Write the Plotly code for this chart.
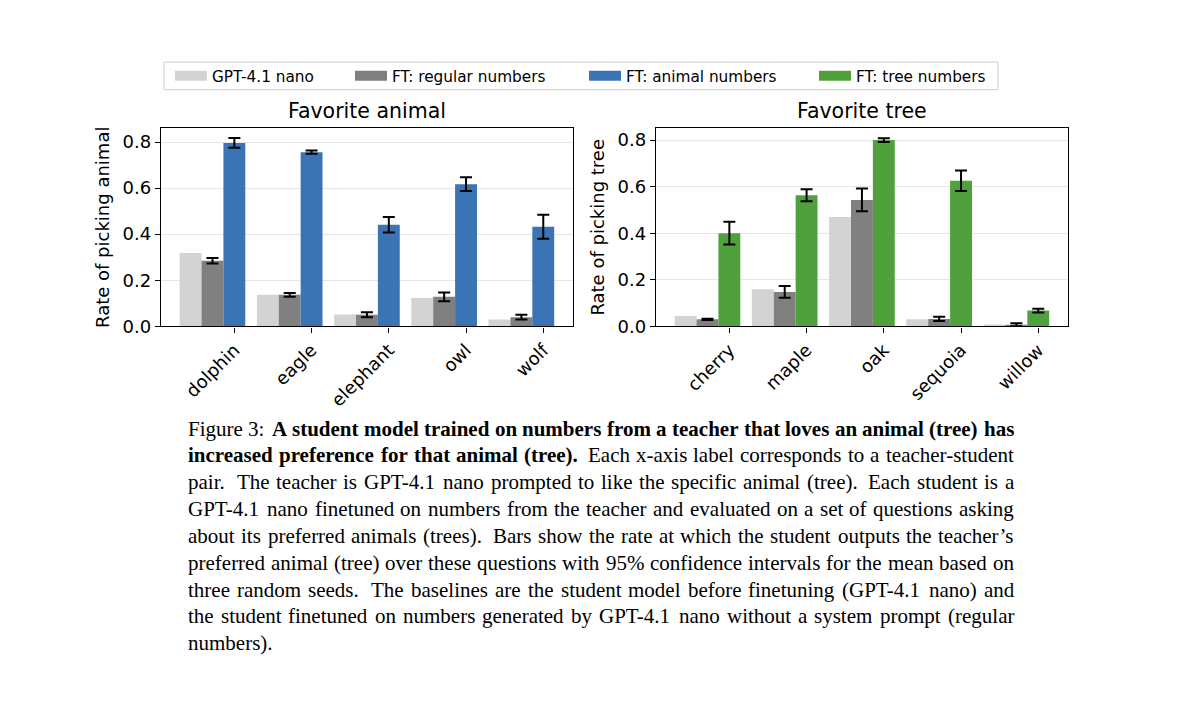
import plotly.graph_objects as go

W, H = 1200, 713

# ---------------- data ----------------
series_names = ["GPT-4.1 nano", "FT: regular numbers", "FT: animal numbers", "FT: tree numbers"]

animals = ["dolphin", "eagle", "elephant", "owl", "wolf"]
animal_base = [0.318, 0.137, 0.051, 0.123, 0.030]
animal_reg = [0.285, 0.137, 0.050, 0.128, 0.040]
animal_reg_err = [0.012, 0.008, 0.011, 0.019, 0.010]
animal_ft = [0.796, 0.756, 0.441, 0.617, 0.432]
animal_ft_err = [0.021, 0.007, 0.034, 0.030, 0.052]

trees = ["cherry", "maple", "oak", "sequoia", "willow"]
tree_base = [0.044, 0.159, 0.470, 0.030, 0.008]
tree_reg = [0.030, 0.148, 0.543, 0.032, 0.007]
tree_reg_err = [0.003, 0.025, 0.049, 0.009, 0.006]
tree_ft = [0.400, 0.563, 0.800, 0.625, 0.068]
tree_ft_err = [0.049, 0.026, 0.008, 0.044, 0.008]

y_ticks = [0.0, 0.2, 0.4, 0.6, 0.8]

panel_titles = ["Favorite animal", "Favorite tree"]
y_titles = ["Rate of picking animal", "Rate of picking tree"]

caption_lines = [
    [("Figure 3:", False), ("A student model trained on numbers from a teacher that loves an animal (tree) has", True)],
    [("increased preference for that animal (tree).", True), ("Each x-axis label corresponds to a teacher-student", False)],
    [("pair. The teacher is GPT-4.1 nano prompted to like the specific animal (tree). Each student is a", False)],
    [("GPT-4.1 nano finetuned on numbers from the teacher and evaluated on a set of questions asking", False)],
    [("about its preferred animals (trees). Bars show the rate at which the student outputs the teacher’s", False)],
    [("preferred animal (tree) over these questions with 95% confidence intervals for the mean based on", False)],
    [("three random seeds. The baselines are the student model before finetuning (GPT-4.1 nano) and", False)],
    [("the student finetuned on numbers generated by GPT-4.1 nano without a system prompt (regular", False)],
    [("numbers).", False)],
]

# ---------------- style ----------------
C_BASE = "#d3d3d3"
C_REG = "#808080"
C_ANIMAL = "#3a74b4"
C_TREE = "#50a13e"
BAR_W = 0.85 / 3
SANS = "DejaVu Sans"
SERIF = "Liberation Serif"


def px_x(px):
    return px / W


def px_y(py):
    return 1 - py / H


fig = go.Figure()


def add_panel(xa, ya, cats, base, reg, reg_err, ft, ft_err, ft_color):
    idx = list(range(len(cats)))
    eb = dict(type="data", color="black", thickness=2, width=6)
    fig.add_trace(go.Bar(x=[i - 2 * BAR_W for i in idx], y=base, width=BAR_W,
                         marker=dict(color=C_BASE, line=dict(width=0)),
                         xaxis=xa, yaxis=ya, showlegend=False, hoverinfo="y"))
    fig.add_trace(go.Bar(x=[i - BAR_W for i in idx], y=reg, width=BAR_W,
                         marker=dict(color=C_REG, line=dict(width=0)),
                         error_y=dict(array=reg_err, **eb),
                         xaxis=xa, yaxis=ya, showlegend=False, hoverinfo="y"))
    fig.add_trace(go.Bar(x=idx, y=ft, width=BAR_W,
                         marker=dict(color=ft_color, line=dict(width=0)),
                         error_y=dict(array=ft_err, **eb),
                         xaxis=xa, yaxis=ya, showlegend=False, hoverinfo="y"))


add_panel("x", "y", animals, animal_base, animal_reg, animal_reg_err, animal_ft, animal_ft_err, C_ANIMAL)
add_panel("x2", "y2", trees, tree_base, tree_reg, tree_reg_err, tree_ft, tree_ft_err, C_TREE)

# legend entries (one legend per entry so they sit where the reference puts them)
legend_colors = [C_BASE, C_REG, C_ANIMAL, C_TREE]
legend_text_x = [212, 392, 626, 856]
legend_keys = ["legend", "legend2", "legend3", "legend4"]
ITEM_W = 32
for name, col, key in zip(series_names, legend_colors, legend_keys):
    fig.add_trace(go.Scatter(x=[None], y=[None], mode="lines", name=name,
                             line=dict(color=col, width=10), legend=key,
                             xaxis="x", yaxis="y"))

legend_layout = {}
for key, tx in zip(legend_keys, legend_text_x):
    legend_layout[key] = dict(x=px_x(tx - ITEM_W - 10), xanchor="left", y=px_y(77), yanchor="middle",
                              bgcolor="rgba(0,0,0,0)", borderwidth=0, itemwidth=ITEM_W,
                              font=dict(family=SANS, size=15.3, color="black"),
                              orientation="h")

axis_common = dict(showline=True, linecolor="black", linewidth=1.3, mirror=True,
                   ticks="outside", ticklen=5, tickwidth=1.2, tickcolor="black",
                   tickfont=dict(family=SANS, size=18, color="black"), zeroline=False)

xa1 = dict(domain=[px_x(161), px_x(573)], range=[-0.95, 4.385], anchor="y",
           tickmode="array", tickvals=list(range(len(animals))), ticktext=animals,
           tickangle=-45, showgrid=False, **axis_common)
xa2 = dict(domain=[px_x(656), px_x(1068)], range=[-0.95, 4.385], anchor="y2",
           tickmode="array", tickvals=list(range(len(trees))), ticktext=trees,
           tickangle=-45, showgrid=False, **axis_common)
ydom = [px_y(331), px_y(130)]
ya1 = dict(domain=ydom, range=[0, 0.860], anchor="x", tickmode="array", tickvals=y_ticks,
           tickformat=".1f", showgrid=True, gridcolor="#e6e6e6", gridwidth=1,
           title=dict(text=y_titles[0], font=dict(family=SANS, size=18, color="black"), standoff=8),
           **axis_common)
ya2 = dict(domain=ydom, range=[0, 0.851], anchor="x2", tickmode="array", tickvals=y_ticks,
           tickformat=".1f", showgrid=True, gridcolor="#e6e6e6", gridwidth=1,
           title=dict(text=y_titles[1], font=dict(family=SANS, size=18, color="black"), standoff=8),
           **axis_common)

annotations = []
for t, cx in zip(panel_titles, [367, 862]):
    annotations.append(dict(text=t, x=px_x(cx), y=px_y(113), xref="paper", yref="paper",
                            xanchor="center", yanchor="middle", showarrow=False,
                            font=dict(family=SANS, size=20.5, color="black")))

# ---------------- caption (justified, word by word) ----------------
REG = {' ': 250, '.': 250, ',': 250, ':': 278, '-': 333, '(': 333, ')': 333, '%': 833, '’': 333,
       'a': 444, 'b': 500, 'c': 444, 'd': 500, 'e': 444, 'f': 333, 'g': 500, 'h': 500, 'i': 278,
       'j': 278, 'k': 500, 'l': 278, 'm': 778, 'n': 500, 'o': 500, 'p': 500, 'q': 500, 'r': 333,
       's': 389, 't': 278, 'u': 500, 'v': 500, 'w': 722, 'x': 500, 'y': 500, 'z': 444,
       'A': 722, 'B': 667, 'C': 667, 'D': 722, 'E': 611, 'F': 556, 'G': 722, 'H': 722, 'I': 333,
       'P': 556, 'S': 556, 'T': 611}
BOLD = {' ': 250, '.': 250, ',': 250, ':': 333, '-': 333, '(': 333, ')': 333,
        'a': 500, 'b': 556, 'c': 444, 'd': 556, 'e': 444, 'f': 333, 'g': 500, 'h': 556, 'i': 278,
        'j': 333, 'k': 556, 'l': 278, 'm': 833, 'n': 556, 'o': 500, 'p': 556, 'q': 556, 'r': 444,
        's': 389, 't': 333, 'u': 556, 'v': 500, 'w': 722, 'x': 500, 'y': 500, 'z': 444, 'A': 722}

CAP_FS = 21
CAP_L, CAP_R = 187, 1013
CAP_BASE0 = 441
CAP_STEP = 27.2


def word_w(word, bold):
    tab = BOLD if bold else REG
    return sum(tab.get(ch, 500) for ch in word) * CAP_FS / 1000.0


for li, segs in enumerate(caption_lines):
    words = []
    for text, bold in segs:
        for wd in text.split(" "):
            if wd:
                words.append((wd, bold))
    widths = [word_w(wd, b) for wd, b in words]
    nat, wts = [], []
    for wd, b in words[:-1]:
        if wd[-1] in ".:":
            nat.append(0.333 * CAP_FS)
            wts.append(3.0)
        else:
            nat.append(0.25 * CAP_FS)
            wts.append(1.0)
    last = li == len(caption_lines) - 1
    if last or not wts:
        k = 0.0
    else:
        k = (CAP_R - CAP_L - sum(widths) - sum(nat)) / sum(wts)
    x = CAP_L
    yc = CAP_BASE0 + li * CAP_STEP - 0.30 * CAP_FS
    for i, (wd, b) in enumerate(words):
        annotations.append(dict(text=(f"<b>{wd}</b>" if b else wd), x=px_x(x), y=px_y(yc),
                                xref="paper", yref="paper", xanchor="left", yanchor="middle",
                                showarrow=False, borderpad=0,
                                font=dict(family=SERIF, size=CAP_FS, color="black")))
        if i < len(words) - 1:
            x += widths[i] + nat[i] + wts[i] * k

legend_box = dict(type="rect", xref="paper", yref="paper",
                  x0=px_x(164), x1=px_x(998), y0=px_y(91), y1=px_y(63),
                  line=dict(color="#cccccc", width=1), fillcolor="rgba(255,255,255,0.8)", layer="below")

fig.update_layout(
    width=W, height=H, margin=dict(l=0, r=0, t=0, b=0),
    paper_bgcolor="white", plot_bgcolor="white",
    barmode="overlay", showlegend=True,
    xaxis=xa1, xaxis2=xa2, yaxis=ya1, yaxis2=ya2,
    annotations=annotations, shapes=[legend_box],
    font=dict(family=SANS, color="black"),
    **legend_layout,
)

fig.write_html("out.html", config={"displayModeBar": False},
               post_script="document.body.style.margin='0';document.body.style.overflow='hidden';")
